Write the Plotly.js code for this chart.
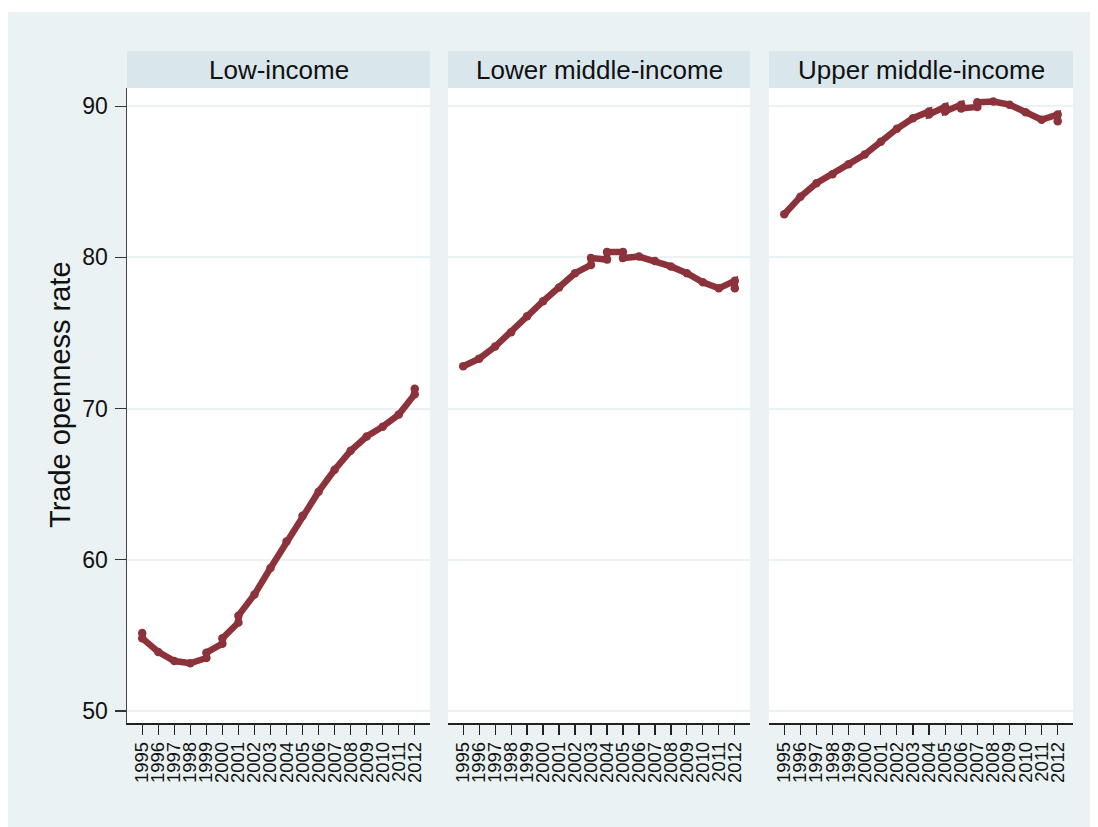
<!DOCTYPE html>
<html>
<head>
<meta charset="utf-8">
<script src="https://cdn.plot.ly/plotly-3.0.1.min.js"></script>
<style>
  html, body { margin: 0; padding: 0; background: #ffffff; }
  #frame { position: absolute; left: 8px; top: 12px; width: 1082px; height: 815px; background: #EAF2F3; }
  #chart { width: 1082px; height: 815px; }
</style>
</head>
<body>
<div id="frame"><div id="chart"></div></div>
<script>
// ---- data ----
const panelTitles = ["Low-income", "Lower middle-income", "Upper middle-income"];
const yearTicks = [1995,1996,1997,1998,1999,2000,2001,2002,2003,2004,2005,2006,2007,2008,2009,2010,2011,2012];
const yTicks = [50, 60, 70, 80, 90];

const lowYears = [1995,1995,1996,1997,1998,1999,1999,2000,2000,2001,2001,2002,2003,2004,2005,2006,2007,2008,2009,2010,2011,2012,2012];
const lowVals  = [55.15,54.8,53.9,53.3,53.15,53.5,53.85,54.45,54.8,55.85,56.3,57.7,59.45,61.2,62.9,64.5,65.95,67.2,68.15,68.8,69.6,70.95,71.3];

const lowerMidYears = [1995,1996,1997,1998,1999,2000,2001,2002,2003,2003,2004,2004,2005,2005,2006,2007,2008,2009,2010,2011,2012,2012];
const lowerMidVals  = [72.8,73.3,74.1,75.05,76.1,77.1,78.0,78.95,79.5,79.95,79.85,80.35,80.35,79.95,80.05,79.75,79.4,78.95,78.35,77.95,78.45,77.95];

const upperMidYears = [1995,1996,1997,1998,1999,2000,2001,2002,2003,2004,2004,2005,2005,2006,2006,2007,2007,2008,2009,2010,2011,2012,2012];
const upperMidVals  = [82.85,84.0,84.9,85.5,86.15,86.8,87.65,88.5,89.2,89.65,89.45,89.95,89.65,90.1,89.85,89.95,90.25,90.3,90.1,89.6,89.1,89.45,89.0];

// ---- layout constants ----
const FONT = "'Liberation Sans', Arial, Helvetica, sans-serif";
const LINE = "#8C323A";
const W = 1082, H = 815;
const domains = [[119/W, 422/W], [440/W, 742/W], [761/W, 1065/W]];
const yDom = [(H - 711)/H, (H - 76)/H];
const headTop = (H - 39)/H;

const series = [[lowYears, lowVals], [lowerMidYears, lowerMidVals], [upperMidYears, upperMidVals]];

const traces = series.map((s, i) => ({
  x: s[0], y: s[1],
  type: "scatter", mode: "lines+markers",
  xaxis: i === 0 ? "x" : "x" + (i + 1),
  yaxis: i === 0 ? "y" : "y" + (i + 1),
  line: { color: LINE, width: 6.5 },
  marker: { color: LINE, size: 8.5 },
  hoverinfo: "x+y", showlegend: false
}));

const layout = {
  width: W, height: H,
  margin: { l: 0, r: 0, t: 0, b: 0 },
  paper_bgcolor: "rgba(0,0,0,0)",
  plot_bgcolor: "#ffffff",
  font: { family: FONT, color: "#111" },
  showlegend: false,
  shapes: [],
  annotations: []
};

for (let i = 0; i < 3; i++) {
  const xk = i === 0 ? "xaxis" : "xaxis" + (i + 1);
  const yk = i === 0 ? "yaxis" : "yaxis" + (i + 1);
  layout[xk] = {
    domain: domains[i],
    anchor: i === 0 ? "y" : "y" + (i + 1),
    range: [1994.05, 2012.95],
    tickmode: "array",
    tickvals: yearTicks,
    ticktext: yearTicks.map(String),
    tickangle: -90,
    ticks: "outside", ticklen: 10, tickwidth: 1.2, tickcolor: "#222",
    tickfont: { family: FONT, size: 18.5, color: "#111" },
    showline: true, linecolor: "#222", linewidth: 1.5,
    showgrid: false, zeroline: false, fixedrange: true
  };
  layout[yk] = {
    domain: yDom,
    anchor: i === 0 ? "x" : "x" + (i + 1),
    range: [49.2, 91.2],
    tickmode: "array",
    tickvals: yTicks,
    ticktext: yTicks.map(String),
    showticklabels: i === 0,
    ticks: i === 0 ? "outside" : "",
    ticklen: 11, tickwidth: 1.2, tickcolor: "#333",
    ticklabelstandoff: 2,
    tickfont: { family: FONT, size: 23, color: "#111" },
    showline: i === 0, linecolor: "#444", linewidth: 1.5,
    showgrid: true, gridcolor: "#EAF2F3", gridwidth: 2,
    zeroline: false, fixedrange: true
  };
  layout.shapes.push({
    type: "rect", xref: "paper", yref: "paper",
    x0: domains[i][0], x1: domains[i][1], y0: yDom[1], y1: headTop,
    fillcolor: "#D9E6EC", line: { width: 0 }, layer: "below"
  });
  layout.annotations.push({
    xref: "paper", yref: "paper",
    x: (domains[i][0] + domains[i][1]) / 2, y: (yDom[1] + headTop) / 2,
    text: panelTitles[i], showarrow: false,
    xanchor: "center", yanchor: "middle",
    font: { family: FONT, size: 26, color: "#111" }
  });
}

layout.annotations.push({
  xref: "paper", yref: "paper",
  x: 52 / W, y: (H - 383) / H,
  text: "Trade openness rate", showarrow: false, textangle: -90,
  xanchor: "center", yanchor: "middle",
  font: { family: FONT, size: 29, color: "#111" }
});

Plotly.newPlot("chart", traces, layout, { displayModeBar: false, staticPlot: true });
</script>
</body>
</html>
